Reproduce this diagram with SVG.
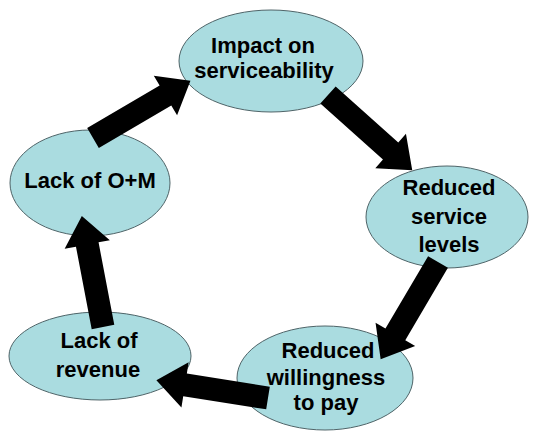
<svg xmlns="http://www.w3.org/2000/svg" width="540" height="433" viewBox="0 0 540 433">
<style>
.node ellipse{fill:#aadce0;stroke:#4f6468;stroke-width:1}
.node text{font-family:"Liberation Sans",Arial,sans-serif;font-weight:bold;font-size:22px;fill:#000;text-anchor:middle}
.arr{fill:#000}
</style>
<defs>
<polygon id="arrow" class="arr" points="0,-11.5 84,-11.5 84,-23 113,0 84,23 84,11.5 0,11.5"/>
</defs>
<rect width="540" height="433" fill="#fff"/>
<g id="impact" class="node">
<ellipse cx="271" cy="61" rx="92" ry="51"/>
<text x="263" y="53">Impact on</text>
<text x="264" y="78">serviceability</text>
</g>
<g id="reduced-service" class="node">
<ellipse cx="447" cy="217" rx="81" ry="51"/>
<text x="449" y="195">Reduced</text>
<text x="449" y="224">service</text>
<text x="449" y="252">levels</text>
</g>
<g id="reduced-willingness" class="node">
<ellipse cx="325" cy="378" rx="88" ry="52"/>
<text x="328" y="358">Reduced</text>
<text x="326" y="385">willingness</text>
<text x="326" y="410">to pay</text>
</g>
<g id="lack-revenue" class="node">
<ellipse cx="100" cy="356" rx="91" ry="44"/>
<text x="99" y="348">Lack of</text>
<text x="98" y="377">revenue</text>
</g>
<g id="lack-om" class="node">
<ellipse cx="90" cy="183" rx="80" ry="53"/>
<text x="90" y="188">Lack of O+M</text>
</g>
<g id="connectors">
<use href="#arrow" transform="translate(93,138) rotate(-30.4)"/>
<use href="#arrow" transform="translate(328,95) rotate(41.8)"/>
<use href="#arrow" transform="translate(438,262) rotate(120.5)"/>
<use href="#arrow" transform="translate(268,398) rotate(189)"/>
<use href="#arrow" transform="translate(103,327) rotate(-100.8)"/>
</g>
</svg>
